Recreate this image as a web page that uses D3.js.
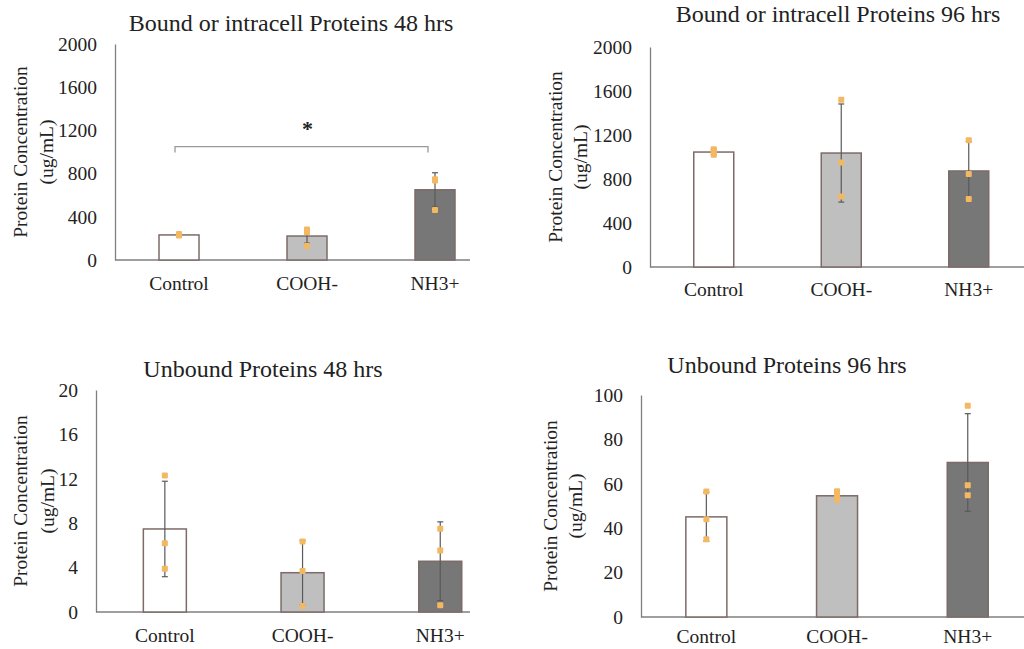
<!DOCTYPE html>
<html>
<head>
<meta charset="utf-8">
<script src="https://cdn.jsdelivr.net/npm/d3@7"></script>
<style>
  body { margin: 0; background: #fff; }
</style>
</head>
<body>
<div id="chart"></div>
<script>
// Categories shared by every panel
var categories = ['Control', 'COOH-', 'NH3+'];
var barFills = ['#ffffff', '#bfbfbf', '#777777'];
var serif = "'Liberation Serif', 'Times New Roman', serif";

// Bound or intracell 48 hrs
var bound48Mean = [232, 222, 650];
var bound48Sd = [8, 66, 158];
var bound48Points = [[240, 232, 226], [282, 258, 130], [463, 735, 748]];
var bound48Ticks = [0, 400, 800, 1200, 1600, 2000];

// Bound or intracell 96 hrs
var bound96Mean = [1045, 1036, 873];
var bound96Sd = [25, 446, 268];
var bound96Points = [[1070, 1045, 1020], [1520, 950, 640], [1152, 845, 618]];
var bound96Ticks = [0, 400, 800, 1200, 1600, 2000];

// Unbound 48 hrs
var unbound48Mean = [7.48, 3.54, 4.57];
var unbound48Sd = [4.3, 2.9, 3.55];
var unbound48Points = [[12.3, 6.2, 3.9], [6.35, 3.7, 0.55], [7.5, 5.55, 0.6]];
var unbound48Ticks = [0, 4, 8, 12, 16, 20];

// Unbound 96 hrs
var unbound96Mean = [45.1, 54.6, 69.6];
var unbound96Sd = [11, 2, 22];
var unbound96Points = [[56.5, 44, 35], [56.6, 55, 52.8], [95.2, 59.4, 54.8]];
var unbound96Ticks = [0, 20, 40, 60, 80, 100];

var svg = d3.select('#chart')
    .append('svg')
    .attr('width', 1024)
    .attr('height', 649);

function drawPanel(p) {
    var g = svg.append('g');

    var y = d3.scaleLinear()
        .domain([0, d3.max(p.ticks)])
        .range([p.yBottom, p.yTop]);

    var x = d3.scaleBand()
        .domain(categories)
        .range([p.axisX, p.axisX + 3 * p.step]);

    // Title
    g.append('text')
        .attr('x', p.titleX)
        .attr('y', p.titleY)
        .attr('text-anchor', 'middle')
        .style('font-size', '24px')
        .text(p.title);

    // Y axis
    var yAxis = d3.axisLeft(y).tickValues(p.ticks).tickFormat(d3.format('d'))
        .tickSize(0).tickPadding(18);
    var ya = g.append('g')
        .attr('transform', 'translate(' + p.axisX + ',0)')
        .call(yAxis);
    ya.select('.domain').attr('stroke', '#7f7f7f').attr('stroke-width', 1.3);
    ya.selectAll('text').style('font-size', '19.5px');

    // Baseline
    g.append('line')
        .attr('x1', p.axisX)
        .attr('x2', p.axisEnd)
        .attr('y1', y(0))
        .attr('y2', y(0))
        .attr('stroke', '#7f7f7f')
        .attr('stroke-width', 1.5);

    // Category labels
    g.selectAll('.cat')
        .data(categories)
        .enter().append('text')
        .attr('x', function(d) { return x(d) + x.bandwidth() / 2; })
        .attr('y', p.catY)
        .attr('text-anchor', 'middle')
        .style('font-size', '19.5px')
        .text(function(d) { return d; });

    // Y axis title (two lines)
    var cy = (p.yTop + p.yBottom) / 2;
    g.append('text')
        .attr('transform', 'translate(' + p.labelX1 + ',' + cy + ') rotate(-90)')
        .attr('text-anchor', 'middle')
        .attr('dy', '0.35em')
        .style('font-size', '19.5px')
        .text('Protein Concentration');
    g.append('text')
        .attr('transform', 'translate(' + p.labelX2 + ',' + cy + ') rotate(-90)')
        .attr('text-anchor', 'middle')
        .attr('dy', '0.35em')
        .style('font-size', '19.5px')
        .text('(ug/mL)');

    // Bars
    g.selectAll('.bar')
        .data(categories)
        .enter().append('rect')
        .attr('x', function(d) { return x(d) + x.bandwidth() / 2 - p.barW / 2; })
        .attr('y', function(d, i) { return y(p.mean[i]); })
        .attr('width', p.barW)
        .attr('height', function(d, i) { return y(0) - y(p.mean[i]); })
        .attr('fill', function(d, i) { return barFills[i]; })
        .attr('stroke', '#7d6b69')
        .attr('stroke-width', 1.5);

    // Error bars
    categories.forEach(function(c, i) {
        var cx = x(c) + x.bandwidth() / 2;
        var hi = y(p.mean[i] + p.sd[i]);
        var lo = y(p.mean[i] - p.sd[i]);
        g.append('line')
            .attr('x1', cx).attr('x2', cx)
            .attr('y1', hi).attr('y2', lo)
            .attr('stroke', '#5a5a5a').attr('stroke-width', 1.2);
        [hi, lo].forEach(function(v) {
            g.append('line')
                .attr('x1', cx - 3).attr('x2', cx + 3)
                .attr('y1', v).attr('y2', v)
                .attr('stroke', '#5a5a5a').attr('stroke-width', 1.2);
        });
        // Replicate points
        g.selectAll(null)
            .data(p.points[i])
            .enter().append('rect')
            .attr('x', cx - 3)
            .attr('y', function(d) { return y(d) - 3; })
            .attr('width', 6)
            .attr('height', 6)
            .attr('rx', 1)
            .attr('fill', '#f3b862');
    });

    // Significance bracket
    if (p.bracket) {
        var b = p.bracket;
        var bx1 = x(b.from) + x.bandwidth() / 2 - 4;
        var bx2 = x(b.to) + x.bandwidth() / 2 - 7;
        var by = y(b.level);
        g.append('path')
            .attr('d', 'M' + bx1 + ',' + (by + 6) + 'V' + by + 'H' + bx2 + 'V' + (by + 6))
            .attr('fill', 'none')
            .attr('stroke', '#999')
            .attr('stroke-width', 1.3);
        g.append('text')
            .attr('x', (bx1 + bx2) / 2 + 6)
            .attr('y', y(b.starLevel))
            .attr('text-anchor', 'middle')
            .style('font-size', '22px')
            .style('font-weight', 'bold')
            .text('*');
    }
}

drawPanel({
    title: 'Bound or intracell Proteins 48 hrs', titleX: 291, titleY: 31,
    mean: bound48Mean, sd: bound48Sd, points: bound48Points, ticks: bound48Ticks,
    axisX: 115, axisEnd: 470, step: 128, barW: 40, yTop: 44, yBottom: 260,
    catY: 290, labelX1: 20, labelX2: 46,
    bracket: { from: 'Control', to: 'NH3+', level: 1050, starLevel: 1150 }
});

drawPanel({
    title: 'Bound or intracell Proteins 96 hrs', titleX: 838, titleY: 22,
    mean: bound96Mean, sd: bound96Sd, points: bound96Points, ticks: bound96Ticks,
    axisX: 650, axisEnd: 1024, step: 127.5, barW: 40, yTop: 47, yBottom: 267,
    catY: 296, labelX1: 555, labelX2: 580
});

drawPanel({
    title: 'Unbound Proteins 48 hrs', titleX: 263, titleY: 377,
    mean: unbound48Mean, sd: unbound48Sd, points: unbound48Points, ticks: unbound48Ticks,
    axisX: 96, axisEnd: 470, step: 137.7, barW: 43, yTop: 390, yBottom: 612,
    catY: 642, labelX1: 20, labelX2: 47
});

drawPanel({
    title: 'Unbound Proteins 96 hrs', titleX: 787, titleY: 373,
    mean: unbound96Mean, sd: unbound96Sd, points: unbound96Points, ticks: unbound96Ticks,
    axisX: 641, axisEnd: 1024, step: 130.7, barW: 41, yTop: 395, yBottom: 617,
    catY: 643, labelX1: 550, labelX2: 575
});

// Serif font on every text, incl. the axis ticks
svg.selectAll('text')
    .style('font-family', serif)
    .attr('fill', '#222');
svg.selectAll('.tick text').style('fill', '#222');
</script>
</body>
</html>
